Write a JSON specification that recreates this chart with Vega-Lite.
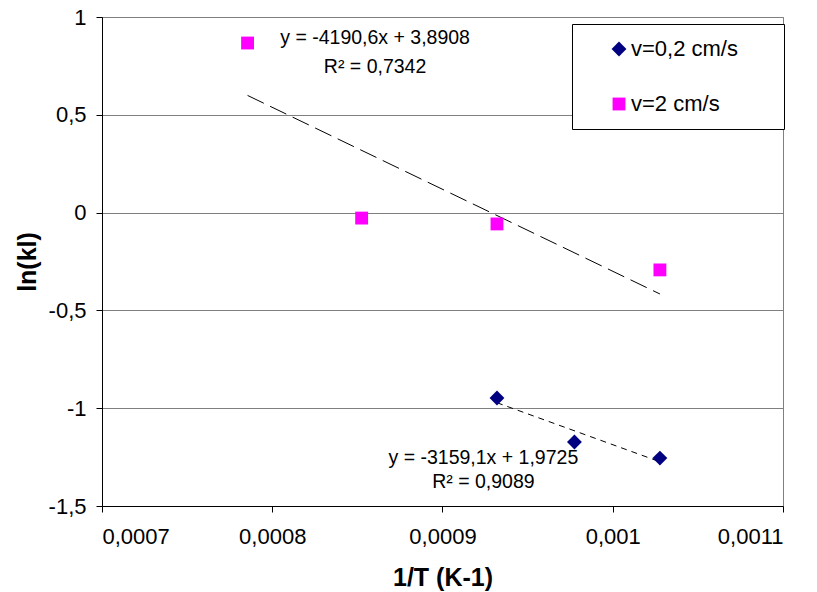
{
  "$schema": "https://vega.github.io/schema/vega-lite/v6.json",
  "width": 681,
  "height": 489,
  "autosize": {"type": "none"},
  "padding": {"left": 102, "top": 17, "right": 34, "bottom": 86},
  "config": {
    "font": "Liberation Sans",
    "view": {"stroke": "#808080", "strokeWidth": 1},
    "locale": {"number": {"decimal": ",", "thousands": " ", "grouping": [3], "currency": ["", ""], "minus": "-"}},
    "axis": {
      "labelFont": "Liberation Sans", "labelFontSize": 22, "labelColor": "#000",
      "titleFont": "Liberation Sans", "titleFontSize": 25, "titleFontWeight": "bold", "titleColor": "#000",
      "domainColor": "#000", "tickColor": "#000", "tickSize": 6
    }
  },
  "layer": [
    {
      "data": {"values": [
        {"x": 0.0007855, "y": 0.599},
        {"x": 0.0010277, "y": -0.416}
      ]},
      "mark": {"type": "line", "color": "#000", "strokeWidth": 1, "strokeDash": [18, 7]},
      "encoding": {
        "x": {"field": "x", "type": "quantitative", "scale": {"domain": [0.0007, 0.0011], "nice": false, "zero": false},
          "axis": {"values": [0.0007, 0.0008, 0.0009, 0.001, 0.0011], "format": "~g", "grid": false, "title": "1/T (K-1)", "labelPadding": 14, "titlePadding": 18}},
        "y": {"field": "y", "type": "quantitative", "scale": {"domain": [-1.5, 1], "nice": false, "zero": false},
          "axis": {"values": [-1.5, -1, -0.5, 0, 0.5, 1], "format": "~g", "grid": true, "gridColor": "#808080", "gridOpacity": 1, "title": "ln(kl)", "labelPadding": 10, "titlePadding": 8}}
      }
    },
    {
      "data": {"values": [
        {"x": 0.000932, "y": -0.972},
        {"x": 0.0010277, "y": -1.274}
      ]},
      "mark": {"type": "line", "color": "#000", "strokeWidth": 1, "strokeDash": [6, 5]},
      "encoding": {
        "x": {"field": "x", "type": "quantitative"},
        "y": {"field": "y", "type": "quantitative"}
      }
    },
    {
      "data": {"values": [
        {"series": "v=0,2 cm/s", "x": 0.000932, "y": -0.948},
        {"series": "v=0,2 cm/s", "x": 0.0009775, "y": -1.173},
        {"series": "v=0,2 cm/s", "x": 0.0010277, "y": -1.255},
        {"series": "v=2 cm/s", "x": 0.0007855, "y": 0.867},
        {"series": "v=2 cm/s", "x": 0.0008525, "y": -0.028},
        {"series": "v=2 cm/s", "x": 0.000932, "y": -0.058},
        {"series": "v=2 cm/s", "x": 0.0010277, "y": -0.293}
      ]},
      "mark": {"type": "point", "filled": true, "opacity": 1},
      "encoding": {
        "x": {"field": "x", "type": "quantitative"},
        "y": {"field": "y", "type": "quantitative"},
        "color": {"field": "series", "type": "nominal",
          "scale": {"domain": ["v=0,2 cm/s", "v=2 cm/s"], "range": ["#000080", "#FF00FF"]},
          "legend": {"title": null, "orient": "none", "legendX": 470, "legendY": 7,
            "fillColor": "#fff", "strokeColor": "#000", "padding": 14,
            "labelFontSize": 22, "labelFont": "Liberation Sans", "labelColor": "#000",
            "labelExpr": "datum.label + '\u2800\u2800'",
            "labelLimit": 300,
            "symbolSize": 150, "symbolOffset": 22, "rowPadding": 33, "labelOffset": 1, "symbolOpacity": 1}},
        "shape": {"field": "series", "type": "nominal",
          "scale": {"domain": ["v=0,2 cm/s", "v=2 cm/s"], "range": ["diamond", "square"]}},
        "size": {"field": "series", "type": "nominal",
          "scale": {"domain": ["v=0,2 cm/s", "v=2 cm/s"], "range": [220, 165]}, "legend": null}
      }
    },
    {
      "data": {"values": [
        {"x": 0.0008604, "y": 0.893, "label": "y = -4190,6x + 3,8908"},
        {"x": 0.0008604, "y": 0.744, "label": "R² = 0,7342"},
        {"x": 0.000924, "y": -1.255, "label": "y = -3159,1x + 1,9725"},
        {"x": 0.000924, "y": -1.377, "label": "R² = 0,9089"}
      ]},
      "mark": {"type": "text", "font": "Liberation Sans", "fontSize": 19.5, "color": "#000", "align": "center", "baseline": "middle"},
      "encoding": {
        "x": {"field": "x", "type": "quantitative"},
        "y": {"field": "y", "type": "quantitative"},
        "text": {"field": "label"}
      }
    }
  ]
}
